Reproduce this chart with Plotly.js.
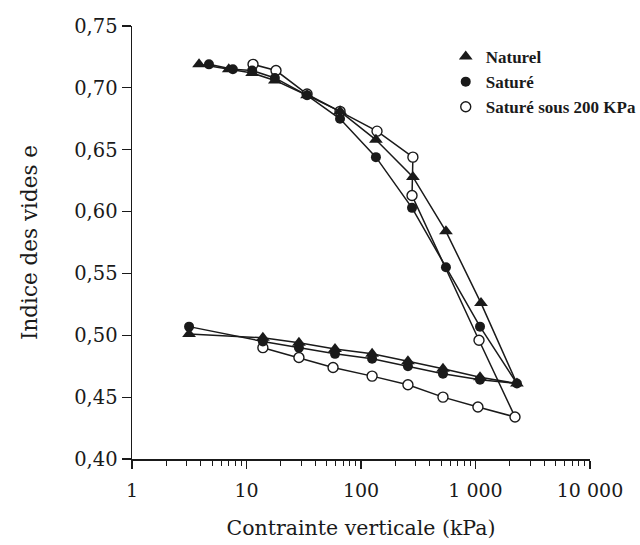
<!DOCTYPE html>
<html>
<head>
<meta charset="utf-8">
<script src="https://cdn.plot.ly/plotly-3.0.1.min.js"></script>
<style>html,body{margin:0;padding:0;background:#fff;}#chart{width:640px;height:545px;}</style>
</head>
<body>
<div id="chart"></div>
<script>
// Naturel: loading then unloading
const naturelX = [3.85, 7.0, 11.2, 17.7, 33.8, 65.6, 135, 284, 552, 1117, 2300, 1095, 520, 257, 125, 59.3, 28.7, 13.9, 3.15];
const naturelE = [0.719, 0.715, 0.712, 0.706, 0.694, 0.681, 0.658, 0.628, 0.584, 0.526, 0.461, 0.466, 0.473, 0.479, 0.485, 0.489, 0.494, 0.498, 0.501];
// Saturé
const satureX = [4.7, 7.6, 11.2, 17.7, 33.8, 65.6, 135, 279, 552, 1095, 2300, 1095, 520, 257, 125, 59.3, 28.7, 13.9, 3.15];
const satureE = [0.719, 0.715, 0.714, 0.708, 0.694, 0.675, 0.644, 0.603, 0.555, 0.507, 0.461, 0.464, 0.469, 0.475, 0.481, 0.485, 0.490, 0.495, 0.507];
// Saturé sous 200 KPa
const sous200X = [11.4, 18.1, 33.8, 65.6, 138, 284, 279, 1073, 2213, 1050, 520, 257, 125, 57, 28.7, 13.9];
const sous200E = [0.719, 0.714, 0.695, 0.681, 0.665, 0.644, 0.613, 0.496, 0.434, 0.442, 0.450, 0.460, 0.467, 0.474, 0.482, 0.490];

const seriesNames = ['Naturel', 'Saturé', 'Saturé sous 200 KPa'];
const xTickVals = [1, 10, 100, 1000, 10000];
const xTickText = ['1', '10', '100', '1 000', '10 000'];
const yTickVals = [0.40, 0.45, 0.50, 0.55, 0.60, 0.65, 0.70, 0.75];
const yTickText = ['0,40', '0,45', '0,50', '0,55', '0,60', '0,65', '0,70', '0,75'];

const ink = '#1a1a1a';
const styles = [
  {symbol: 'triangle-up', size: 12, color: ink, line: {width: 0}},
  {symbol: 'circle', size: 10, color: ink, line: {width: 0}},
  {symbol: 'circle', size: 10, color: '#ffffff', line: {width: 1.4, color: ink}}
];
const xs = [naturelX, satureX, sous200X];
const ys = [naturelE, satureE, sous200E];

const traces = [];
// draw sous200 first, then saturé, then naturel on top
[2, 1, 0].forEach(i => {
  traces.push({
    x: xs[i], y: ys[i], type: 'scatter', mode: 'lines+markers',
    line: {color: ink, width: 1.5},
    marker: styles[i], showlegend: false, cliponaxis: false
  });
});
[0, 1, 2].forEach(i => {
  traces.push({
    x: [null], y: [null], type: 'scatter', mode: 'markers',
    name: seriesNames[i], marker: styles[i], showlegend: true
  });
});

const serif = 'DejaVu Serif, serif';
const layout = {
  width: 640, height: 545,
  margin: {l: 132, r: 50, t: 26, b: 86, autoexpand: false},
  paper_bgcolor: '#fff', plot_bgcolor: '#fff',
  font: {family: serif, color: ink, size: 19},
  showlegend: true,
  legend: {
    x: 0.685, y: 0.97, xanchor: 'left', yanchor: 'top',
    bgcolor: 'rgba(0,0,0,0)',
    font: {family: 'Liberation Serif, serif', size: 17, color: ink, weight: 'bold'},
    tracegroupgap: 0, itemwidth: 30
  },
  xaxis: {
    type: 'log', range: [0, 4],
    showline: true, linecolor: ink, linewidth: 1.5,
    showgrid: false, zeroline: false,
    ticks: 'outside', ticklen: 8, tickwidth: 1.2, tickcolor: ink,
    tickvals: xTickVals, ticktext: xTickText,
    ticklabelstandoff: 6,
    minor: {ticks: 'outside', ticklen: 5, tickwidth: 1, tickcolor: ink, dtick: 'D1', showgrid: false},
    tickfont: {family: serif, size: 19, color: ink},
    title: {text: 'Contrainte verticale (kPa)', font: {family: serif, size: 20.5, color: ink}, standoff: 20}
  },
  yaxis: {
    range: [0.40, 0.75],
    showline: true, linecolor: ink, linewidth: 1.5,
    showgrid: false, zeroline: false,
    ticks: 'outside', ticklen: 9, tickwidth: 1.2, tickcolor: ink,
    tickvals: yTickVals, ticktext: yTickText,
    tickfont: {family: serif, size: 19.5, color: ink},
    title: {text: 'Indice des vides e', font: {family: serif, size: 21.5, color: ink}, standoff: 30}
  }
};

Plotly.newPlot('chart', traces, layout, {displayModeBar: false, staticPlot: true});
</script>
</body>
</html>
